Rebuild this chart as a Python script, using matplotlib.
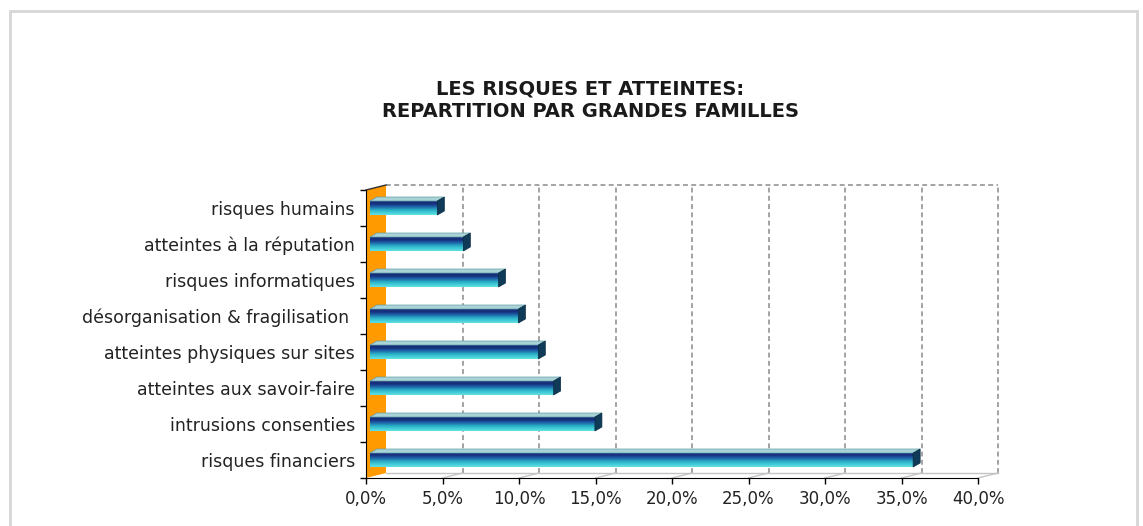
import numpy as np
import matplotlib
matplotlib.use("Agg")
import matplotlib.pyplot as plt
from matplotlib.patches import Polygon, Rectangle
from matplotlib.colors import LinearSegmentedColormap

# ---------------- data ----------------
categories = [
    "risques humains",
    "atteintes à la réputation",
    "risques informatiques",
    "désorganisation & fragilisation ",
    "atteintes physiques sur sites",
    "atteintes aux savoir-faire",
    "intrusions consenties",
    "risques financiers",
]
values = [4.4, 6.1, 8.4, 9.7, 11.0, 12.0, 14.7, 35.5]
xticks = [0, 5, 10, 15, 20, 25, 30, 35, 40]
xtick_labels = ["0,0%", "5,0%", "10,0%", "15,0%", "20,0%", "25,0%", "30,0%", "35,0%", "40,0%"]
title = "LES RISQUES ET ATTEINTES:\nREPARTITION PAR GRANDES FAMILLES"

# ---------------- figure ----------------
W, H = 1143, 526
fig = plt.figure(figsize=(W / 100, H / 100), dpi=100)
plt.rcParams['font.family'] = ['DejaVu Sans']

# outer light border
fig.patches.append(Rectangle((10 / W, -0.1), (1137 - 10) / W, 1.1 - 11 / H,
                             transform=fig.transFigure, fill=False,
                             edgecolor="#d6d6d6", lw=2.0))

ax_left, ax_right, ax_top, ax_bot = 366, 978, 190, 478
ax = fig.add_axes([ax_left / W, (H - ax_bot) / H, (ax_right - ax_left) / W, (ax_bot - ax_top) / H])
n = len(categories)
ypos = np.arange(n)[::-1]
ax.set_xlim(0, 40)
ax.set_ylim(-0.5, n - 0.5)
ax.patch.set_visible(False)

# pixel -> data conversion using the axes transform
p0 = ax.transData.transform((0, 0))
p1 = ax.transData.transform((1, 1))
ux = 1.0 / (p1[0] - p0[0])   # data units per pixel (x)
uy = 1.0 / (p1[1] - p0[1])   # data units per pixel (y)

DX, DY = 20 * ux, 5 * uy     # depth of the 3D box
y0, y1 = -0.5, n - 0.5

grid_kw = dict(color="#8a8a8a", lw=1.1, ls=(0, (3.2, 2.2)), clip_on=False, zorder=1)
# back plane gridlines
for xv in xticks[1:]:
    ax.plot([xv + DX, xv + DX], [y0 + DY, y1 + DY], **grid_kw)
ax.plot([DX, 40 + DX], [y1 + DY, y1 + DY], **grid_kw)

# floor lines
floor_kw = dict(color="#c4c4c4", lw=1.0, clip_on=False, zorder=1)
ax.plot([DX, 40 + DX], [y0 + DY, y0 + DY], **floor_kw)
for xv in xticks[1:]:
    ax.plot([xv, xv + DX], [y0, y0 + DY], **floor_kw)

# orange side wall
wall = Polygon([(0, y0), (0, y1), (DX, y1 + DY), (DX, y0 + DY)], closed=True,
               facecolor="#ff9a00", edgecolor="none", clip_on=False, zorder=2)
ax.add_patch(wall)
ax.plot([0, DX], [y1, y1 + DY], color="#303030", lw=1.0, clip_on=False, zorder=3)

# bars
B = 4 * ux
bh = 14 * uy
cdx, cdy = 7 * ux, 4 * uy
cmap = LinearSegmentedColormap.from_list(
    "barface", [(0.0, "#5fe3e6"), (0.35, "#2bb3c8"), (0.62, "#1d5ea6"), (0.8, "#17307f"), (1.0, "#1a2f7a")])
grad = np.linspace(0, 1, 64).reshape(-1, 1)
bars = ax.barh(ypos, values, height=bh, left=B, color="none", edgecolor="none", zorder=4)
for bar in bars:
    x0b, yb, wb, hb = bar.get_x(), bar.get_y(), bar.get_width(), bar.get_height()
    im = ax.imshow(grad, cmap=cmap, origin="lower", aspect="auto",
                   extent=(x0b, x0b + wb, yb, yb + hb), zorder=4, interpolation="bilinear")
    im.set_clip_path(bar)
    top = Polygon([(x0b, yb + hb), (x0b + wb, yb + hb), (x0b + wb + cdx, yb + hb + cdy),
                   (x0b + cdx, yb + hb + cdy)], closed=True, facecolor="#a9d3d6",
                  edgecolor="#5f9fa8", lw=0.5, zorder=5)
    cap = Polygon([(x0b + wb, yb), (x0b + wb, yb + hb), (x0b + wb + cdx, yb + hb + cdy),
                   (x0b + wb + cdx, yb + cdy)], closed=True, facecolor="#0f3a58",
                  edgecolor="#0a2a40", lw=0.5, zorder=5)
    ax.add_patch(top)
    ax.add_patch(cap)

ax.set_xlim(0, 40)
ax.set_ylim(y0, y1)

# axes lines & ticks
for s in ["top", "right"]:
    ax.spines[s].set_visible(False)
ax.spines["left"].set_color("black")
ax.spines["bottom"].set_color("black")
ax.spines["left"].set_zorder(6)
ax.spines["bottom"].set_zorder(6)
ax.set_xticks(xticks)
ax.set_xticklabels(xtick_labels, fontsize=12, color="#222222")
ax.tick_params(axis="x", direction="out", length=4, width=1, pad=5)
ax.set_yticks(np.arange(-0.5, n, 1.0))
ax.set_yticklabels([])
ax.tick_params(axis="y", which="major", direction="out", length=4, width=1)
ax.set_yticks(ypos, minor=True)
ax.set_yticklabels(categories, minor=True, fontsize=12.5, color="#222222")
ax.tick_params(axis="y", which="minor", length=0, pad=8)

fig.text(590 / W, 1 - 100 / H, title, ha="center", va="center", fontsize=14,
         fontweight="bold", color="#1a1a1a", linespacing=1.25)

fig.savefig("out.png", dpi=100, facecolor="white")
